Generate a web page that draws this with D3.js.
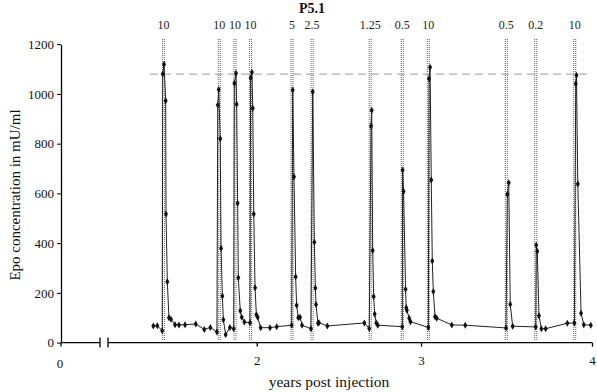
<!DOCTYPE html>
<html><head><meta charset="utf-8">
<script src="https://cdn.jsdelivr.net/npm/d3@7"></script>
<style>body{margin:0;background:#fff}svg{display:block}text{font-family:"Liberation Serif","Times New Roman",serif}</style>
</head><body><svg id="c" width="597" height="392"></svg>
<script>
const title = "P5.1";
const yTicks = [0,200,400,600,800,1000,1200];
const xTicks = [2,3,4];
const threshold = 1080;
const injYears = [1.432,1.772,1.868,1.963,2.215,2.337,2.691,2.886,3.043,3.499,3.671,3.899];
const injDoses = ["10","10","10","10","5","2.5","1.25","0.5","10","0.5","0.2","10"];
const years = [1.371,1.395,1.425,1.428,1.436,1.446,1.448,1.456,1.466,1.478,1.503,1.527,1.564,1.629,1.681,1.718,
 1.758,1.763,1.769,1.778,1.783,1.791,1.797,1.811,1.837,1.860,
 1.864,1.874,1.878,1.884,1.888,1.900,1.909,1.925,1.959,
 1.963,1.971,1.976,1.982,1.990,1.998,2.006,2.024,2.081,2.122,2.213,
 2.219,2.227,2.237,2.243,2.253,2.264,2.276,2.330,
 2.341,2.351,2.357,2.361,2.373,2.379,2.430,2.655,2.685,
 2.696,2.700,2.706,2.712,2.718,2.728,2.737,2.886,
 2.888,2.894,2.906,2.910,2.914,2.928,2.936,3.043,
 3.047,3.053,3.060,3.066,3.072,3.082,3.092,3.180,3.259,3.497,
 3.505,3.513,3.522,3.536,3.671,
 3.674,3.680,3.690,3.704,3.729,3.856,3.897,
 3.905,3.909,3.917,3.936,3.952,3.993];
const epo = [67,68,48,1080,1119,973,517,245,100,94,72,71,72,75,53,61,
 43,955,1018,820,379,187,92,32,61,56,
 1043,1083,959,560,261,128,102,83,80,
 1065,1087,942,517,221,112,102,60,60,64,70,
 1016,667,265,150,100,102,70,56,
 1009,404,220,153,78,80,67,79,57,
 871,934,370,185,115,79,70,64,
 694,608,215,140,130,98,84,61,
 1061,1107,654,328,205,104,98,71,70,59,
 597,643,154,66,63,
 392,367,108,56,56,78,79,
 1041,1075,638,118,72,70];

const svg = d3.select("#c");
const y = d3.scaleLinear().domain([0,1200]).range([342.6,44.2]);
const x = d3.scaleLinear().domain([1,2,3,4]).range([92.4,256.7,421,592]);
const x0 = 61, brk1 = 100, brk2 = 108, xEnd = 592;
const yb = y(0);

// injection dotted lines
injYears.forEach((v,i)=>{
  const px = x(v);
  [-1,1].forEach(o=>{
    svg.append("line").attr("x1",px+o).attr("x2",px+o).attr("y1",39).attr("y2",341)
      .attr("stroke","#606060").attr("stroke-width",1).attr("stroke-dasharray","1,1");
  });
  svg.append("text").attr("x",px).attr("y",29).attr("text-anchor","middle")
    .attr("font-size",12).attr("fill","#222").text(injDoses[i]);
});

// threshold dashed line
svg.append("line").attr("x1",150).attr("x2",592).attr("y1",y(threshold)).attr("y2",y(threshold))
  .attr("stroke","#b0b0b0").attr("stroke-width",1.2).attr("stroke-dasharray","8,5");

// data line
const pts = years.map((t,i)=>[x(t),y(epo[i])]);
svg.append("path").attr("d",d3.line()(pts)).attr("fill","none").attr("stroke","#222").attr("stroke-width",1);
const sym = d3.symbol().type(d3.symbolDiamond).size(14);
svg.selectAll(".m").data(pts).join("path").attr("class","m")
  .attr("transform",d=>`translate(${d[0]},${d[1]})`).attr("d",sym).attr("fill","#111");

// y axis
const yAxis = svg.append("g").attr("transform",`translate(${x0},0)`)
  .call(d3.axisLeft(y).tickValues(yTicks).tickFormat(d3.format("d")).tickSize(4).tickPadding(3).tickSizeOuter(0));
yAxis.select(".domain").attr("stroke","#000").attr("stroke-width",1.3);
yAxis.selectAll("text").attr("font-size",13).attr("fill","#111").style("font-family","Liberation Serif");
yAxis.selectAll("line").attr("stroke","#000");

// x axis with break
const g = svg.append("g").attr("stroke","#000").attr("stroke-width",1.3);
g.append("line").attr("x1",x0).attr("x2",brk1).attr("y1",yb).attr("y2",yb);
g.append("line").attr("x1",brk2).attr("x2",xEnd).attr("y1",yb).attr("y2",yb);
[brk1,brk2].forEach(b=>g.append("line").attr("x1",b).attr("x2",b).attr("y1",yb-5).attr("y2",yb+5));
g.append("line").attr("x1",x0).attr("x2",x0).attr("y1",yb).attr("y2",yb+4);
const xAxis = svg.append("g").attr("transform",`translate(0,${yb})`)
  .call(d3.axisBottom(x).tickValues(xTicks).tickFormat(d3.format("d")).tickSize(4).tickPadding(9).tickSizeOuter(0));
xAxis.select(".domain").remove();
xAxis.selectAll("line").attr("stroke","#000").attr("stroke-width",1.3);
xAxis.selectAll("text").attr("font-size",13).attr("fill","#111").style("font-family","Liberation Serif");
svg.append("text").attr("x",x0-1).attr("y",yb+25).attr("text-anchor","middle").attr("font-size",13).attr("fill","#111").text("0");

// labels
svg.append("text").attr("x",329).attr("y",387).attr("text-anchor","middle").attr("font-size",15.5).attr("fill","#111").text("years post injection");
svg.append("text").attr("transform","translate(20,195) rotate(-90)").attr("text-anchor","middle").attr("font-size",15).attr("fill","#111").text("Epo concentration in mU/ml");
svg.append("text").attr("x",312).attr("y",13).attr("text-anchor","middle").attr("font-size",14).attr("font-weight","bold").attr("fill","#111").text(title);
</script></body></html>
